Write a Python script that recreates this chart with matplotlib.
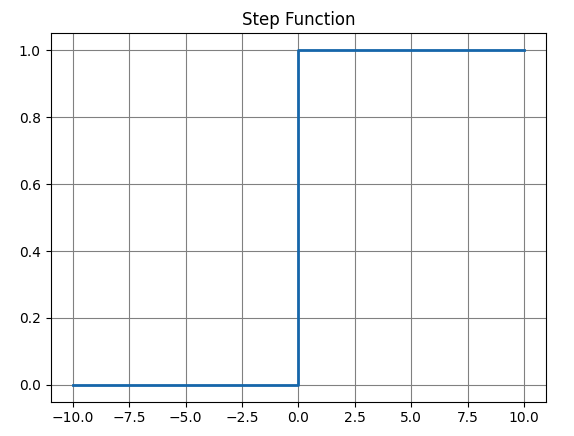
import numpy as np
import matplotlib
matplotlib.use("Agg")
import matplotlib.pyplot as plt

# step data
x_vals = [-10, 0, 0, 10]
y_vals = [0, 0, 1, 1]

fig = plt.figure(figsize=(5.74, 4.36), dpi=100)
ax = fig.add_axes([0.088, 0.0786, 0.864, 0.845])
ax.plot(x_vals, y_vals, color="#1566aa", linewidth=2)
ax.set_title("Step Function")
ax.grid(True, color="gray")
ax.set_axisbelow(True)

fig.savefig("out.png", dpi=100)
